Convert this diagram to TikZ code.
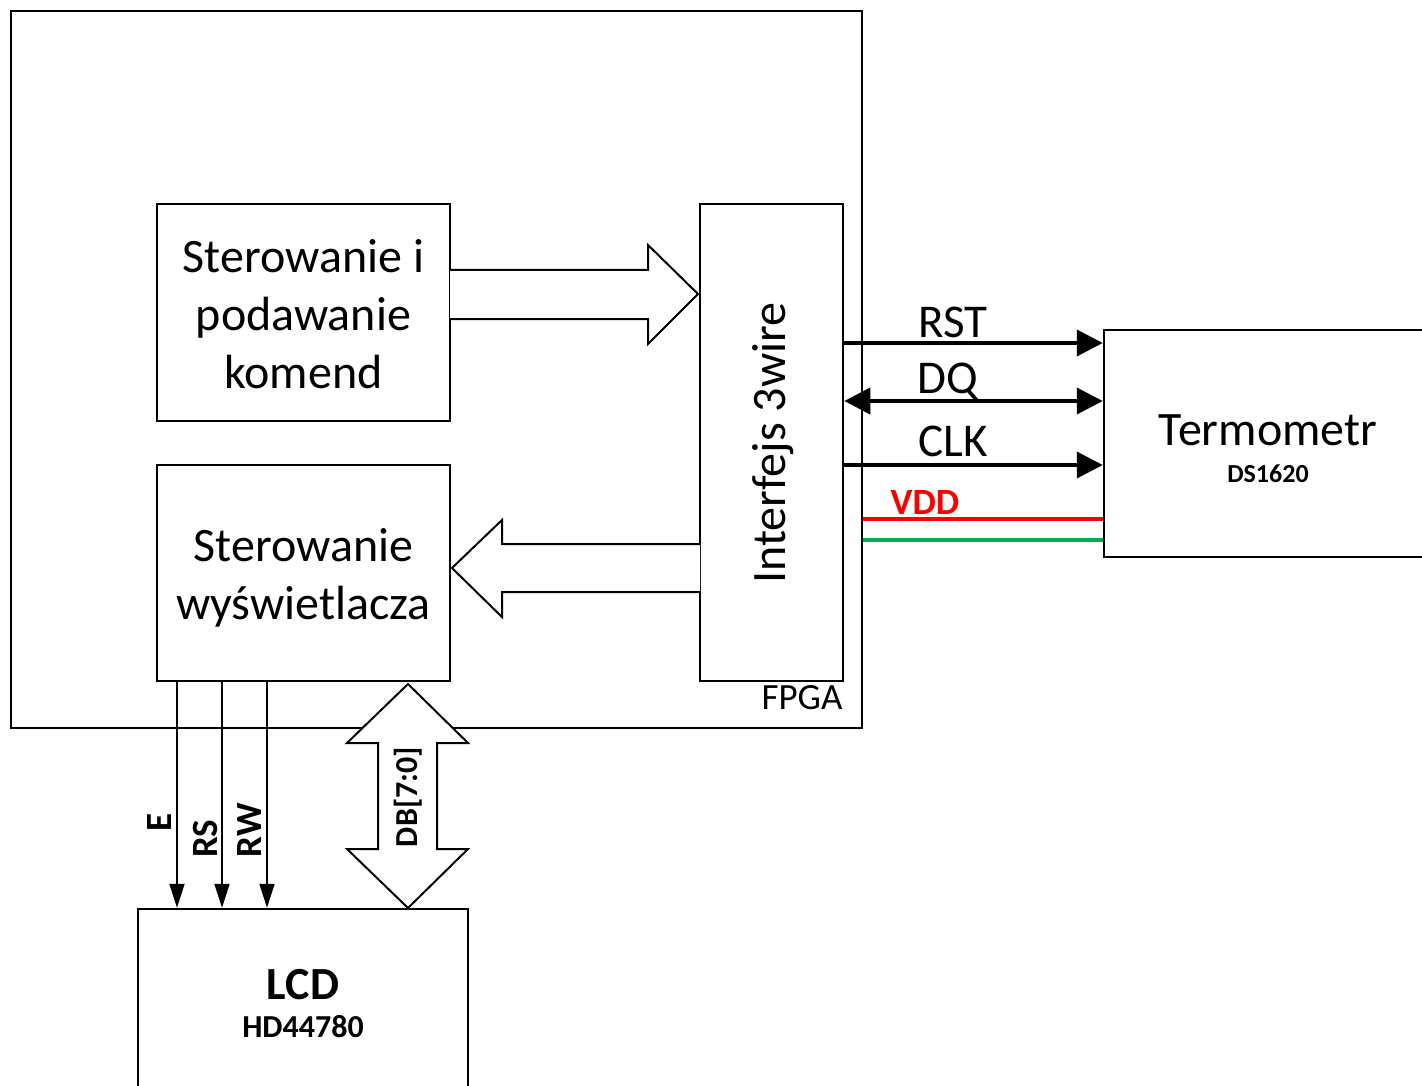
\documentclass[tikz,border=0pt]{standalone}
\usepackage{fontspec}
\setmainfont{Carlito}
\usetikzlibrary{arrows.meta}
\tikzset{
  blok/.style={draw,line width=2.5pt,inner sep=0pt,align=center},
  duzy/.style={font=\fontsize{48}{58}\selectfont,align=center},
  grot/.tip={Triangle[length=26pt,width=26pt]},
  sygnal/.style={line width=4pt,-grot},
  sygtxt/.style={font=\fontsize{47}{54}\selectfont},
  lcdlinia/.style={line width=2pt,-{Triangle[length=24pt,width=15pt]}},
  pion/.style={font=\fontsize{37}{42}\selectfont\bfseries,rotate=90},
  szyna/.style={draw,line width=2pt,fill=white,line join=miter},
}
\begin{document}
\begin{tikzpicture}[x=1pt,y=-1pt]
\useasboundingbox (0,0) rectangle (1422,1086);
% bloki
\node[blok,line width=2pt,minimum width=851,minimum height=717] (fpga) at (436.5,369.5) {};
\node[anchor=center,font=\fontsize{37}{42}\selectfont] (fpgatxt) at (802,698) {FPGA};
\node[blok,minimum width=293,minimum height=217] (cmd) at (303.5,312.5) {};
\node[duzy] (cmdtxt) at (303.5,314.5) {Sterowanie i\\podawanie\\komend};
\node[blok,minimum width=293,minimum height=216] (disp) at (303.5,573) {};
\node[duzy] (disptxt) at (303.5,578) {Sterowanie\\wyświetlacza};
\node[blok,minimum width=143,minimum height=477] (iface) at (771.5,442.5) {};
\node[duzy,rotate=90] (ifacetxt) at (773,443) {Interfejs 3wire};
\node[blok,minimum width=330,minimum height=227] (term) at (1269,443.5) {};
\node[font=\fontsize{48}{56}\selectfont] (termtxt) at (1268,430) {Termometr};
\node[font=\fontsize{26}{30}\selectfont\bfseries] (termtyp) at (1268,474) {DS1620};
\node[blok,minimum width=330,minimum height=200] (lcd) at (303,1009) {};
\node[font=\fontsize{46}{54}\selectfont\bfseries] (lcdtxt) at (303,985) {LCD};
\node[font=\fontsize{32}{38}\selectfont\bfseries] (lcdtyp) at (303,1027) {HD44780};

% szerokie strzalki
\draw[szyna] (450,270) -- (648,270) -- (648,245) -- (698,294) -- (648,344) -- (648,319) -- (450,319);
\draw[szyna] (700,544) -- (502,544) -- (502,520) -- (452,568) -- (502,617) -- (502,592) -- (700,592);
\draw[szyna] (408,684) -- (468,743) -- (437,743) -- (437,849) -- (468,849) -- (408,908)
  -- (347,849) -- (378,849) -- (378,743) -- (347,743) -- cycle;
\node[pion,font=\fontsize{32}{38}\selectfont\bfseries] (db) at (408,797) {DB[7:0]};

% linie do termometru
\draw[sygnal] (iface.east |- 0,343) -- (term.west |- 0,343);
\draw[sygnal,grot-grot] (iface.east |- 0,401) -- (term.west |- 0,401);
\draw[sygnal] (iface.east |- 0,465) -- (term.west |- 0,465);
\node[sygtxt] (rst) at (953,322) {RST};
\node[sygtxt] (dq) at (948,381) {DQ};
\node[sygtxt] (clk) at (953,441) {CLK};
\definecolor{zielony}{RGB}{0,176,80}
\draw[red,line width=4pt] (fpga.east |- 0,519) -- (term.west |- 0,519);
\draw[zielony,line width=4pt] (fpga.east |- 0,540) -- (term.west |- 0,540);
\node[red,font=\fontsize{37}{42}\selectfont\bfseries] (vdd) at (925,503) {VDD};

% linie do LCD
\draw[lcdlinia] (disp.south -| 177,0) -- (lcd.north -| 177,0);
\draw[lcdlinia] (disp.south -| 222,0) -- (lcd.north -| 222,0);
\draw[lcdlinia] (disp.south -| 267,0) -- (lcd.north -| 267,0);
\node[pion] (e) at (160,822) {E};
\node[pion] (rs) at (205,839) {RS};
\node[pion] (rw) at (250,830) {RW};
\end{tikzpicture}
\end{document}
